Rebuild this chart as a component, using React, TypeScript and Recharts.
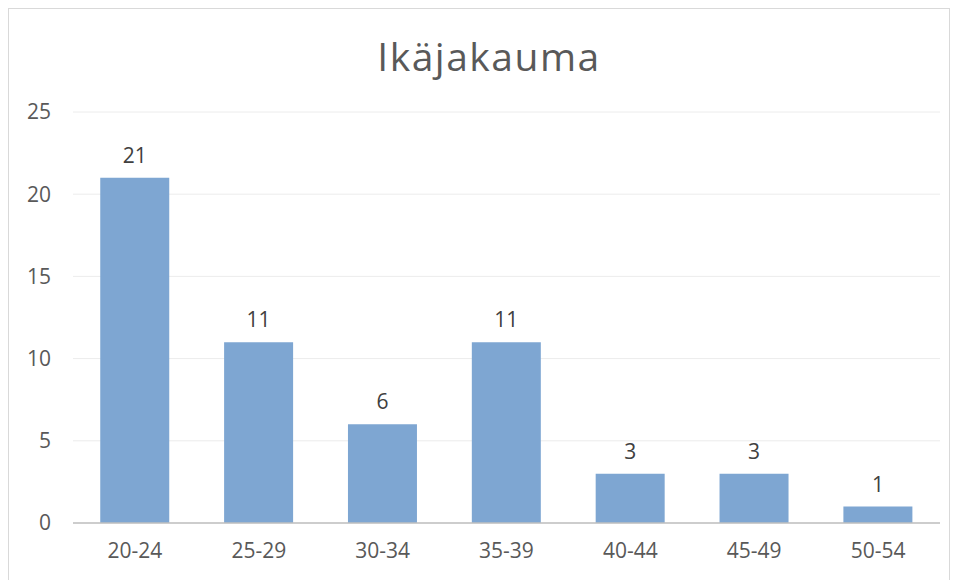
import { Bar, BarChart, CartesianGrid, LabelList, XAxis, YAxis } from 'recharts';

const ageGroups = ['20-24', '25-29', '30-34', '35-39', '40-44', '45-49', '50-54'];
const counts = [21, 11, 6, 11, 3, 3, 1];
const yTicks = [0, 5, 10, 15, 20, 25];

const chartData = ageGroups.map((group, index) => ({ group, count: counts[index] }));

const FONT = '"Open Sans", "Noto Sans", sans-serif';
const TEXT_COLOR = '#595959';

export default function App() {
  return (
    <div
      style={{
        position: 'relative',
        width: 940,
        height: 580,
        border: '1px solid #d9d9d9',
        background: '#fff',
        fontFamily: FONT,
      }}
    >
      <div
        style={{
          position: 'absolute',
          top: 20,
          left: 20,
          right: 0,
          textAlign: 'center',
          fontSize: 39,
          color: TEXT_COLOR,
          letterSpacing: 1.5,
        }}
      >
        Ikäjakauma
      </div>
      <BarChart
        width={940}
        height={572}
        data={chartData}
        margin={{ top: 103, right: 9, bottom: 0, left: 0 }}
        barCategoryGap="22%"
      >
        <CartesianGrid vertical={false} stroke="#ececec" />
        <XAxis
          dataKey="group"
          height={58}
          tickLine={false}
          tickSize={0}
          tickMargin={20}
          axisLine={{ stroke: '#bfbfbf', strokeWidth: 1.5 }}
          tick={{ fill: TEXT_COLOR, fontSize: 21, fontFamily: FONT }}
        />
        <YAxis
          width={64}
          domain={[0, 25]}
          ticks={yTicks}
          axisLine={false}
          tickLine={false}
          tickSize={0}
          tickMargin={22}
          tick={{ fill: TEXT_COLOR, fontSize: 21, fontFamily: FONT }}
        />
        <Bar dataKey="count" fill="#7ea6d2" isAnimationActive={false}>
          <LabelList
            dataKey="count"
            position="top"
            offset={15}
            fill="#404040"
            fontSize={21}
            fontFamily={FONT}
          />
        </Bar>
      </BarChart>
    </div>
  );
}
